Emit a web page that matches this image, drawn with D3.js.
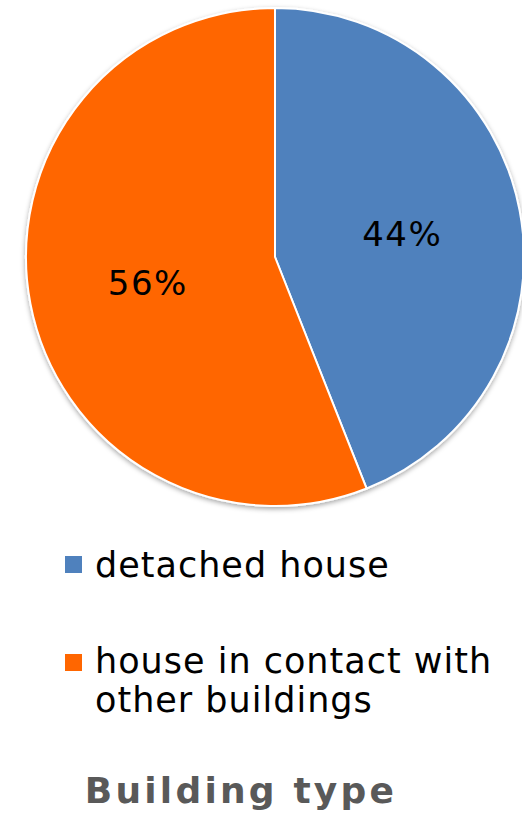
<!DOCTYPE html>
<html>
<head>
<meta charset="utf-8">
<script src="https://cdn.jsdelivr.net/npm/d3@7"></script>
<style>
  html, body { margin: 0; padding: 0; background: #fff; }
  svg { display: block; }
</style>
</head>
<body>
<div id="chart"></div>
<script>
// Building type shares
const categories = ["detached house", "house in contact with other buildings"];
const values = [44, 56];
const labels = ["44%", "56%"];
const legendLines = [["detached house"], ["house in contact with", "other buildings"]];
const colors = ["#4F81BD", "#FF6600"];
const title = "Building type";

const W = 522, H = 817;
const cx = 275, cy = 257, R = 249;
const fontFamily = "Verdana, 'DejaVu Sans', sans-serif";

const svg = d3.select("#chart").append("svg")
  .attr("width", W).attr("height", H);

const defs = svg.append("defs");
const shadow = defs.append("filter").attr("id", "pieShadow")
  .attr("x", "-10%").attr("y", "-10%").attr("width", "120%").attr("height", "120%");
shadow.append("feDropShadow")
  .attr("dx", 0).attr("dy", 2).attr("stdDeviation", 2.5)
  .attr("flood-color", "#000").attr("flood-opacity", 0.35);

const pie = d3.pie().sort(null).value(d => d)(values);
const arc = d3.arc().innerRadius(0).outerRadius(R);
const labelArc = d3.arc().innerRadius(0).outerRadius(R * 1.04);

const g = svg.append("g").attr("transform", `translate(${cx},${cy})`);

g.append("g").attr("filter", "url(#pieShadow)")
  .selectAll("path").data(pie).join("path")
  .attr("d", arc)
  .attr("fill", (d, i) => colors[i])
  .attr("stroke", "#fff")
  .attr("stroke-width", 2)
  .attr("stroke-linejoin", "round");

g.selectAll("text.pct").data(pie).join("text")
  .attr("class", "pct")
  .attr("transform", d => `translate(${labelArc.centroid(d)})`)
  .attr("text-anchor", "middle")
  .attr("dy", "0.4em")
  .attr("font-family", fontFamily)
  .attr("font-size", 34)
  .attr("letter-spacing", 1.5)
  .attr("fill", "#000")
  .text((d, i) => labels[i]);

// Legend
const legendX = 65, textX = 95;
const legendRows = [
  { y: 577, sq: 556 },
  { y: 673, sq: 654 }
];
const lg = svg.append("g");
legendRows.forEach((row, i) => {
  lg.append("rect")
    .attr("x", legendX).attr("y", row.sq)
    .attr("width", 17).attr("height", 17)
    .attr("fill", colors[i]);
  const t = lg.append("text")
    .attr("x", textX).attr("y", row.y)
    .attr("font-family", fontFamily)
    .attr("font-size", 35)
    .attr("letter-spacing", 1)
    .attr("fill", "#000");
  legendLines[i].forEach((line, j) => {
    t.append("tspan").attr("x", textX).attr("dy", j === 0 ? 0 : 39).text(line);
  });
});

// Title
svg.append("text")
  .attr("x", 241).attr("y", 803)
  .attr("text-anchor", "middle")
  .attr("font-family", fontFamily)
  .attr("font-weight", "bold")
  .attr("font-size", 36)
  .attr("letter-spacing", 3.2)
  .attr("fill", "#595959")
  .text(title);
</script>
</body>
</html>
